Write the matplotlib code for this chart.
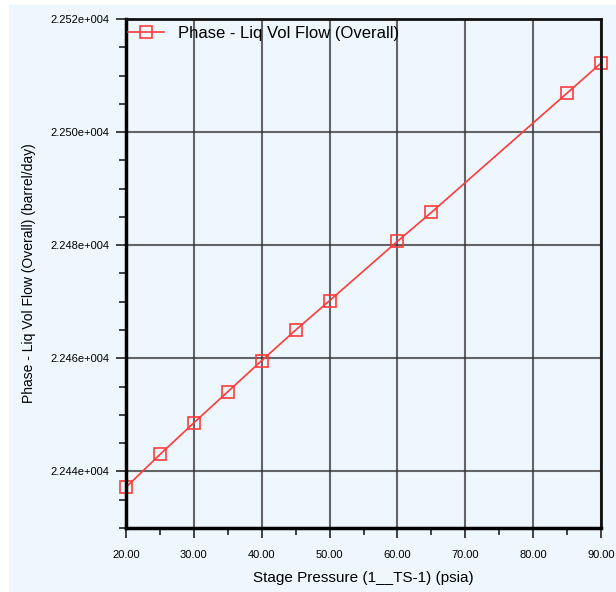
import matplotlib
matplotlib.use("Agg")
import matplotlib.pyplot as plt
from matplotlib.patches import Rectangle
from matplotlib.ticker import MultipleLocator, FuncFormatter

# data
pressure = [20, 25, 30, 35, 40, 45, 50, 60, 65, 85, 90]
liq_flow = [22437.2, 22443.0, 22448.6, 22454.1, 22459.6, 22465.0, 22470.2,
            22480.7, 22485.8, 22506.9, 22512.2]

series_name = "Phase - Liq Vol Flow (Overall)"
x_label = "Stage Pressure (1__TS-1) (psia)"
y_label = "Phase - Liq Vol Flow (Overall) (barrel/day)"

plt.rcParams['font.family'] = ['Liberation Sans', 'DejaVu Sans']

bg = "#eef6fe"
fig = plt.figure(figsize=(6.16, 5.92), dpi=100, facecolor="white")
fig.patches.append(Rectangle((9 / 616, 0), 1, 1 - 5 / 592, transform=fig.transFigure,
                             facecolor=bg, edgecolor="none", zorder=-10))

ax = fig.add_axes([126 / 616, 1 - 528 / 592, 475 / 616, 509 / 592])
ax.set_facecolor(bg)

ax.plot(pressure, liq_flow, color="#ff3b3b", lw=1.2, marker="s", markersize=9,
        markerfacecolor="none", markeredgecolor="#ff3b3b", markeredgewidth=1.2,
        clip_on=False, zorder=3, label=series_name)

ax.set_xlim(20, 90)
ax.set_ylim(22430, 22520)
ax.xaxis.set_major_locator(MultipleLocator(10))
ax.xaxis.set_minor_locator(MultipleLocator(5))
ax.yaxis.set_major_locator(MultipleLocator(20))
ax.yaxis.set_minor_locator(MultipleLocator(5))


def sci_fmt(v, pos):
    s = f"{v:.3e}"
    mant, exp = s.split("e")
    sign = exp[0]
    return f"{mant}e{sign}{int(exp[1:]):03d}"


ax.yaxis.set_major_formatter(FuncFormatter(sci_fmt))
ax.xaxis.set_major_formatter(FuncFormatter(lambda v, p: f"{v:.2f}"))

ax.grid(True, which="major", color="#333333", lw=1.5, alpha=0.75)
ax.tick_params(which="major", direction="out", length=7, width=1.2, color="#222222",
               labelsize=8, pad=5)
ax.tick_params(axis="x", which="major", pad=9)
ax.tick_params(which="minor", direction="out", length=5, width=1.2, color="#222222")

for side in ["left", "bottom"]:
    ax.spines[side].set_linewidth(2.5)
    ax.spines[side].set_color("black")
for side in ["top", "right"]:
    ax.spines[side].set_linewidth(2)
    ax.spines[side].set_color("#111111")
for sp in ax.spines.values():
    sp.set_zorder(4)

ax.set_xlabel(x_label, fontsize=11, labelpad=8)
ax.set_ylabel(y_label, fontsize=10, labelpad=10)

ax.legend(loc="upper left", bbox_to_anchor=(0.0, 0.99), frameon=False, fontsize=12,
          handlelength=2.2, borderaxespad=0.0, borderpad=0.1, handletextpad=0.8)

fig.savefig("out.png", dpi=100, facecolor=fig.get_facecolor())
